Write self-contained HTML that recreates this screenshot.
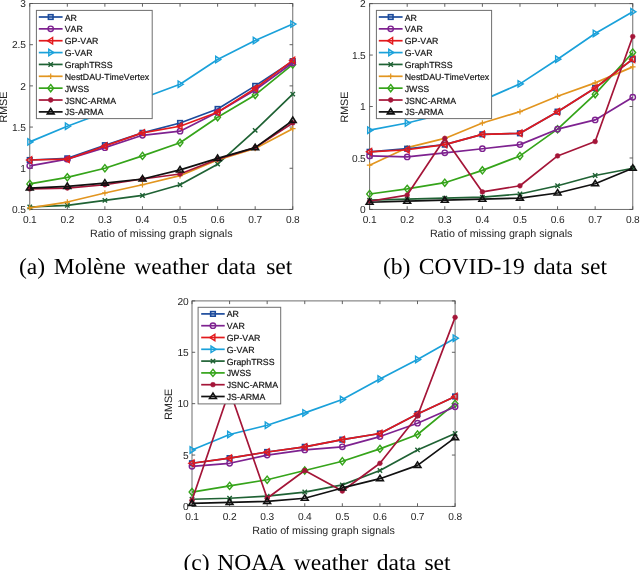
<!DOCTYPE html>
<html><head><meta charset="utf-8"><style>
html,body{margin:0;padding:0;background:#fff;width:640px;height:570px;overflow:hidden}
svg{display:block;font-family:"Liberation Sans", sans-serif;font-kerning:none;will-change:transform;text-rendering:geometricPrecision}
</style></head><body>
<svg width="640" height="570" viewBox="0 0 640 570">
<rect x="29.75" y="3.50" width="263.00" height="205.95" fill="#fff" stroke="#6e6e6e" stroke-width="1.0"/>
<path d="M29.75,209.45 v-3.2" stroke="#505050" stroke-width="0.9"/>
<path d="M29.75,3.50 v3.2" stroke="#505050" stroke-width="0.9"/>
<text x="29.75" y="223.20" text-anchor="middle" font-size="10.2" letter-spacing="-0.15" fill="#262626">0.1</text>
<path d="M67.32,209.45 v-3.2" stroke="#505050" stroke-width="0.9"/>
<path d="M67.32,3.50 v3.2" stroke="#505050" stroke-width="0.9"/>
<text x="67.32" y="223.20" text-anchor="middle" font-size="10.2" letter-spacing="-0.15" fill="#262626">0.2</text>
<path d="M104.89,209.45 v-3.2" stroke="#505050" stroke-width="0.9"/>
<path d="M104.89,3.50 v3.2" stroke="#505050" stroke-width="0.9"/>
<text x="104.89" y="223.20" text-anchor="middle" font-size="10.2" letter-spacing="-0.15" fill="#262626">0.3</text>
<path d="M142.46,209.45 v-3.2" stroke="#505050" stroke-width="0.9"/>
<path d="M142.46,3.50 v3.2" stroke="#505050" stroke-width="0.9"/>
<text x="142.46" y="223.20" text-anchor="middle" font-size="10.2" letter-spacing="-0.15" fill="#262626">0.4</text>
<path d="M180.04,209.45 v-3.2" stroke="#505050" stroke-width="0.9"/>
<path d="M180.04,3.50 v3.2" stroke="#505050" stroke-width="0.9"/>
<text x="180.04" y="223.20" text-anchor="middle" font-size="10.2" letter-spacing="-0.15" fill="#262626">0.5</text>
<path d="M217.61,209.45 v-3.2" stroke="#505050" stroke-width="0.9"/>
<path d="M217.61,3.50 v3.2" stroke="#505050" stroke-width="0.9"/>
<text x="217.61" y="223.20" text-anchor="middle" font-size="10.2" letter-spacing="-0.15" fill="#262626">0.6</text>
<path d="M255.18,209.45 v-3.2" stroke="#505050" stroke-width="0.9"/>
<path d="M255.18,3.50 v3.2" stroke="#505050" stroke-width="0.9"/>
<text x="255.18" y="223.20" text-anchor="middle" font-size="10.2" letter-spacing="-0.15" fill="#262626">0.7</text>
<path d="M292.75,209.45 v-3.2" stroke="#505050" stroke-width="0.9"/>
<path d="M292.75,3.50 v3.2" stroke="#505050" stroke-width="0.9"/>
<text x="292.75" y="223.20" text-anchor="middle" font-size="10.2" letter-spacing="-0.15" fill="#262626">0.8</text>
<path d="M29.75,209.45 h3.2" stroke="#505050" stroke-width="0.9"/>
<path d="M292.75,209.45 h-3.2" stroke="#505050" stroke-width="0.9"/>
<text x="25.75" y="213.20" text-anchor="end" font-size="10.2" letter-spacing="-0.15" fill="#262626">0.5</text>
<path d="M29.75,168.26 h3.2" stroke="#505050" stroke-width="0.9"/>
<path d="M292.75,168.26 h-3.2" stroke="#505050" stroke-width="0.9"/>
<text x="25.75" y="172.01" text-anchor="end" font-size="10.2" letter-spacing="-0.15" fill="#262626">1</text>
<path d="M29.75,127.07 h3.2" stroke="#505050" stroke-width="0.9"/>
<path d="M292.75,127.07 h-3.2" stroke="#505050" stroke-width="0.9"/>
<text x="25.75" y="130.82" text-anchor="end" font-size="10.2" letter-spacing="-0.15" fill="#262626">1.5</text>
<path d="M29.75,85.88 h3.2" stroke="#505050" stroke-width="0.9"/>
<path d="M292.75,85.88 h-3.2" stroke="#505050" stroke-width="0.9"/>
<text x="25.75" y="89.63" text-anchor="end" font-size="10.2" letter-spacing="-0.15" fill="#262626">2</text>
<path d="M29.75,44.69 h3.2" stroke="#505050" stroke-width="0.9"/>
<path d="M292.75,44.69 h-3.2" stroke="#505050" stroke-width="0.9"/>
<text x="25.75" y="48.44" text-anchor="end" font-size="10.2" letter-spacing="-0.15" fill="#262626">2.5</text>
<path d="M29.75,3.50 h3.2" stroke="#505050" stroke-width="0.9"/>
<path d="M292.75,3.50 h-3.2" stroke="#505050" stroke-width="0.9"/>
<text x="25.75" y="7.25" text-anchor="end" font-size="10.2" letter-spacing="-0.15" fill="#262626">3</text>
<text x="161.25" y="236.95" text-anchor="middle" font-size="10.7" fill="#262626">Ratio of missing graph signals</text>
<text transform="translate(7.30,107.07) rotate(-90)" text-anchor="middle" font-size="10.7" fill="#262626">RMSE</text>
<polyline points="29.75,206.98 67.32,205.33 104.89,200.39 142.46,195.45 180.04,184.74 217.61,164.14 255.18,130.37 292.75,94.12" fill="none" stroke="#1f6234" stroke-width="1.7" stroke-linejoin="round"/>
<path d="M27.55,204.78 L31.95,209.18 M27.55,209.18 L31.95,204.78" stroke="#1f6234" stroke-width="1.4"/>
<path d="M65.12,203.13 L69.52,207.53 M65.12,207.53 L69.52,203.13" stroke="#1f6234" stroke-width="1.4"/>
<path d="M102.69,198.19 L107.09,202.59 M102.69,202.59 L107.09,198.19" stroke="#1f6234" stroke-width="1.4"/>
<path d="M140.26,193.25 L144.66,197.65 M140.26,197.65 L144.66,193.25" stroke="#1f6234" stroke-width="1.4"/>
<path d="M177.84,182.54 L182.24,186.94 M177.84,186.94 L182.24,182.54" stroke="#1f6234" stroke-width="1.4"/>
<path d="M215.41,161.94 L219.81,166.34 M215.41,166.34 L219.81,161.94" stroke="#1f6234" stroke-width="1.4"/>
<path d="M252.98,128.17 L257.38,132.57 M252.98,132.57 L257.38,128.17" stroke="#1f6234" stroke-width="1.4"/>
<path d="M290.55,91.92 L294.95,96.32 M290.55,96.32 L294.95,91.92" stroke="#1f6234" stroke-width="1.4"/>
<polyline points="29.75,207.80 67.32,202.04 104.89,192.97 142.46,184.74 180.04,175.67 217.61,160.02 255.18,148.49 292.75,128.72" fill="none" stroke="#e2951f" stroke-width="1.7" stroke-linejoin="round"/>
<path d="M26.95,207.80 L32.55,207.80 M29.75,205.00 L29.75,210.60" stroke="#e2951f" stroke-width="1.2"/>
<path d="M64.52,202.04 L70.12,202.04 M67.32,199.24 L67.32,204.84" stroke="#e2951f" stroke-width="1.2"/>
<path d="M102.09,192.97 L107.69,192.97 M104.89,190.17 L104.89,195.77" stroke="#e2951f" stroke-width="1.2"/>
<path d="M139.66,184.74 L145.26,184.74 M142.46,181.94 L142.46,187.54" stroke="#e2951f" stroke-width="1.2"/>
<path d="M177.24,175.67 L182.84,175.67 M180.04,172.87 L180.04,178.47" stroke="#e2951f" stroke-width="1.2"/>
<path d="M214.81,160.02 L220.41,160.02 M217.61,157.22 L217.61,162.82" stroke="#e2951f" stroke-width="1.2"/>
<path d="M252.38,148.49 L257.98,148.49 M255.18,145.69 L255.18,151.29" stroke="#e2951f" stroke-width="1.2"/>
<path d="M289.95,128.72 L295.55,128.72 M292.75,125.92 L292.75,131.52" stroke="#e2951f" stroke-width="1.2"/>
<polyline points="29.75,183.91 67.32,177.32 104.89,168.26 142.46,155.90 180.04,142.72 217.61,117.18 255.18,94.94 292.75,64.46" fill="none" stroke="#35a41a" stroke-width="1.7" stroke-linejoin="round"/>
<path d="M29.75,180.31 L32.63,183.91 L29.75,187.51 L26.87,183.91 Z" fill="none" stroke="#35a41a" stroke-width="1.4"/>
<path d="M67.32,173.72 L70.20,177.32 L67.32,180.92 L64.44,177.32 Z" fill="none" stroke="#35a41a" stroke-width="1.4"/>
<path d="M104.89,164.66 L107.77,168.26 L104.89,171.86 L102.01,168.26 Z" fill="none" stroke="#35a41a" stroke-width="1.4"/>
<path d="M142.46,152.30 L145.34,155.90 L142.46,159.50 L139.58,155.90 Z" fill="none" stroke="#35a41a" stroke-width="1.4"/>
<path d="M180.04,139.12 L182.92,142.72 L180.04,146.32 L177.16,142.72 Z" fill="none" stroke="#35a41a" stroke-width="1.4"/>
<path d="M217.61,113.58 L220.49,117.18 L217.61,120.78 L214.73,117.18 Z" fill="none" stroke="#35a41a" stroke-width="1.4"/>
<path d="M255.18,91.34 L258.06,94.94 L255.18,98.54 L252.30,94.94 Z" fill="none" stroke="#35a41a" stroke-width="1.4"/>
<path d="M292.75,60.86 L295.63,64.46 L292.75,68.06 L289.87,64.46 Z" fill="none" stroke="#35a41a" stroke-width="1.4"/>
<polyline points="29.75,141.90 67.32,126.25 104.89,112.24 142.46,98.24 180.04,84.23 217.61,59.52 255.18,40.57 292.75,24.09" fill="none" stroke="#1aa1da" stroke-width="1.7" stroke-linejoin="round"/>
<path d="M32.95,141.90 L27.83,138.70 L27.83,145.10 Z" fill="none" stroke="#1aa1da" stroke-width="1.4" stroke-linejoin="miter"/>
<path d="M70.52,126.25 L65.40,123.05 L65.40,129.45 Z" fill="none" stroke="#1aa1da" stroke-width="1.4" stroke-linejoin="miter"/>
<path d="M108.09,112.24 L102.97,109.04 L102.97,115.44 Z" fill="none" stroke="#1aa1da" stroke-width="1.4" stroke-linejoin="miter"/>
<path d="M145.66,98.24 L140.54,95.04 L140.54,101.44 Z" fill="none" stroke="#1aa1da" stroke-width="1.4" stroke-linejoin="miter"/>
<path d="M183.24,84.23 L178.12,81.03 L178.12,87.43 Z" fill="none" stroke="#1aa1da" stroke-width="1.4" stroke-linejoin="miter"/>
<path d="M220.81,59.52 L215.69,56.32 L215.69,62.72 Z" fill="none" stroke="#1aa1da" stroke-width="1.4" stroke-linejoin="miter"/>
<path d="M258.38,40.57 L253.26,37.37 L253.26,43.77 Z" fill="none" stroke="#1aa1da" stroke-width="1.4" stroke-linejoin="miter"/>
<path d="M295.95,24.09 L290.83,20.89 L290.83,27.29 Z" fill="none" stroke="#1aa1da" stroke-width="1.4" stroke-linejoin="miter"/>
<polyline points="29.75,160.02 67.32,158.37 104.89,145.19 142.46,132.84 180.04,122.95 217.61,108.95 255.18,85.88 292.75,61.17" fill="none" stroke="#1c4b9c" stroke-width="1.7" stroke-linejoin="round"/>
<rect x="27.45" y="157.72" width="4.60" height="4.60" fill="none" stroke="#1c4b9c" stroke-width="1.6"/>
<rect x="65.02" y="156.07" width="4.60" height="4.60" fill="none" stroke="#1c4b9c" stroke-width="1.6"/>
<rect x="102.59" y="142.89" width="4.60" height="4.60" fill="none" stroke="#1c4b9c" stroke-width="1.6"/>
<rect x="140.16" y="130.54" width="4.60" height="4.60" fill="none" stroke="#1c4b9c" stroke-width="1.6"/>
<rect x="177.74" y="120.65" width="4.60" height="4.60" fill="none" stroke="#1c4b9c" stroke-width="1.6"/>
<rect x="215.31" y="106.65" width="4.60" height="4.60" fill="none" stroke="#1c4b9c" stroke-width="1.6"/>
<rect x="252.88" y="83.58" width="4.60" height="4.60" fill="none" stroke="#1c4b9c" stroke-width="1.6"/>
<rect x="290.45" y="58.87" width="4.60" height="4.60" fill="none" stroke="#1c4b9c" stroke-width="1.6"/>
<polyline points="29.75,165.79 67.32,159.20 104.89,147.66 142.46,135.31 180.04,131.19 217.61,112.24 255.18,90.00 292.75,62.81" fill="none" stroke="#7e2290" stroke-width="1.7" stroke-linejoin="round"/>
<circle cx="29.75" cy="165.79" r="2.70" fill="none" stroke="#7e2290" stroke-width="1.4"/>
<circle cx="67.32" cy="159.20" r="2.70" fill="none" stroke="#7e2290" stroke-width="1.4"/>
<circle cx="104.89" cy="147.66" r="2.70" fill="none" stroke="#7e2290" stroke-width="1.4"/>
<circle cx="142.46" cy="135.31" r="2.70" fill="none" stroke="#7e2290" stroke-width="1.4"/>
<circle cx="180.04" cy="131.19" r="2.70" fill="none" stroke="#7e2290" stroke-width="1.4"/>
<circle cx="217.61" cy="112.24" r="2.70" fill="none" stroke="#7e2290" stroke-width="1.4"/>
<circle cx="255.18" cy="90.00" r="2.70" fill="none" stroke="#7e2290" stroke-width="1.4"/>
<circle cx="292.75" cy="62.81" r="2.70" fill="none" stroke="#7e2290" stroke-width="1.4"/>
<polyline points="29.75,160.02 67.32,159.20 104.89,146.02 142.46,132.84 180.04,126.25 217.61,112.24 255.18,88.35 292.75,60.34" fill="none" stroke="#e3191c" stroke-width="1.7" stroke-linejoin="round"/>
<path d="M26.55,160.02 L31.67,156.82 L31.67,163.22 Z" fill="none" stroke="#e3191c" stroke-width="1.4" stroke-linejoin="miter"/>
<path d="M64.12,159.20 L69.24,156.00 L69.24,162.40 Z" fill="none" stroke="#e3191c" stroke-width="1.4" stroke-linejoin="miter"/>
<path d="M101.69,146.02 L106.81,142.82 L106.81,149.22 Z" fill="none" stroke="#e3191c" stroke-width="1.4" stroke-linejoin="miter"/>
<path d="M139.26,132.84 L144.38,129.64 L144.38,136.04 Z" fill="none" stroke="#e3191c" stroke-width="1.4" stroke-linejoin="miter"/>
<path d="M176.84,126.25 L181.96,123.05 L181.96,129.45 Z" fill="none" stroke="#e3191c" stroke-width="1.4" stroke-linejoin="miter"/>
<path d="M214.41,112.24 L219.53,109.04 L219.53,115.44 Z" fill="none" stroke="#e3191c" stroke-width="1.4" stroke-linejoin="miter"/>
<path d="M251.98,88.35 L257.10,85.15 L257.10,91.55 Z" fill="none" stroke="#e3191c" stroke-width="1.4" stroke-linejoin="miter"/>
<path d="M289.55,60.34 L294.67,57.14 L294.67,63.54 Z" fill="none" stroke="#e3191c" stroke-width="1.4" stroke-linejoin="miter"/>
<polyline points="29.75,188.85 67.32,188.03 104.89,184.74 142.46,178.97 180.04,174.03 217.61,159.20 255.18,147.66 292.75,122.95" fill="none" stroke="#a41538" stroke-width="1.7" stroke-linejoin="round"/>
<circle cx="29.75" cy="188.85" r="2.40" fill="#a41538" stroke="#a41538" stroke-width="0.5"/>
<circle cx="67.32" cy="188.03" r="2.40" fill="#a41538" stroke="#a41538" stroke-width="0.5"/>
<circle cx="104.89" cy="184.74" r="2.40" fill="#a41538" stroke="#a41538" stroke-width="0.5"/>
<circle cx="142.46" cy="178.97" r="2.40" fill="#a41538" stroke="#a41538" stroke-width="0.5"/>
<circle cx="180.04" cy="174.03" r="2.40" fill="#a41538" stroke="#a41538" stroke-width="0.5"/>
<circle cx="217.61" cy="159.20" r="2.40" fill="#a41538" stroke="#a41538" stroke-width="0.5"/>
<circle cx="255.18" cy="147.66" r="2.40" fill="#a41538" stroke="#a41538" stroke-width="0.5"/>
<circle cx="292.75" cy="122.95" r="2.40" fill="#a41538" stroke="#a41538" stroke-width="0.5"/>
<polyline points="29.75,188.03 67.32,186.38 104.89,183.09 142.46,178.97 180.04,169.91 217.61,158.37 255.18,147.66 292.75,120.48" fill="none" stroke="#111111" stroke-width="1.7" stroke-linejoin="round"/>
<path d="M29.75,184.63 L26.35,190.07 L33.15,190.07 Z" fill="none" stroke="#111111" stroke-width="1.6" stroke-linejoin="miter"/>
<path d="M67.32,182.98 L63.92,188.42 L70.72,188.42 Z" fill="none" stroke="#111111" stroke-width="1.6" stroke-linejoin="miter"/>
<path d="M104.89,179.69 L101.49,185.13 L108.29,185.13 Z" fill="none" stroke="#111111" stroke-width="1.6" stroke-linejoin="miter"/>
<path d="M142.46,175.57 L139.06,181.01 L145.86,181.01 Z" fill="none" stroke="#111111" stroke-width="1.6" stroke-linejoin="miter"/>
<path d="M180.04,166.51 L176.64,171.95 L183.44,171.95 Z" fill="none" stroke="#111111" stroke-width="1.6" stroke-linejoin="miter"/>
<path d="M217.61,154.97 L214.21,160.41 L221.01,160.41 Z" fill="none" stroke="#111111" stroke-width="1.6" stroke-linejoin="miter"/>
<path d="M255.18,144.26 L251.78,149.70 L258.58,149.70 Z" fill="none" stroke="#111111" stroke-width="1.6" stroke-linejoin="miter"/>
<path d="M292.75,117.08 L289.35,122.52 L296.15,122.52 Z" fill="none" stroke="#111111" stroke-width="1.6" stroke-linejoin="miter"/>
<rect x="36.40" y="10.40" width="115.80" height="108.20" fill="#fff" stroke="#6e6e6e" stroke-width="1.0"/>
<path d="M38.80,17.00 H62.60" stroke="#1c4b9c" stroke-width="1.7"/>
<rect x="48.40" y="14.70" width="4.60" height="4.60" fill="none" stroke="#1c4b9c" stroke-width="1.6"/>
<text x="64.70" y="20.57" font-size="8.8" fill="#111" stroke="#111" stroke-width="0.18">AR</text>
<path d="M38.80,28.86 H62.60" stroke="#7e2290" stroke-width="1.7"/>
<circle cx="50.70" cy="28.86" r="2.70" fill="none" stroke="#7e2290" stroke-width="1.4"/>
<text x="64.70" y="32.43" font-size="8.8" fill="#111" stroke="#111" stroke-width="0.18">VAR</text>
<path d="M38.80,40.72 H62.60" stroke="#e3191c" stroke-width="1.7"/>
<path d="M47.50,40.72 L52.62,37.52 L52.62,43.92 Z" fill="none" stroke="#e3191c" stroke-width="1.4" stroke-linejoin="miter"/>
<text x="64.70" y="44.29" font-size="8.8" fill="#111" stroke="#111" stroke-width="0.18">GP-VAR</text>
<path d="M38.80,52.58 H62.60" stroke="#1aa1da" stroke-width="1.7"/>
<path d="M53.90,52.58 L48.78,49.38 L48.78,55.78 Z" fill="none" stroke="#1aa1da" stroke-width="1.4" stroke-linejoin="miter"/>
<text x="64.70" y="56.15" font-size="8.8" fill="#111" stroke="#111" stroke-width="0.18">G-VAR</text>
<path d="M38.80,64.44 H62.60" stroke="#1f6234" stroke-width="1.7"/>
<path d="M48.50,62.24 L52.90,66.64 M48.50,66.64 L52.90,62.24" stroke="#1f6234" stroke-width="1.4"/>
<text x="64.70" y="68.01" font-size="8.8" fill="#111" stroke="#111" stroke-width="0.18">GraphTRSS</text>
<path d="M38.80,76.30 H62.60" stroke="#e2951f" stroke-width="1.7"/>
<path d="M47.90,76.30 L53.50,76.30 M50.70,73.50 L50.70,79.10" stroke="#e2951f" stroke-width="1.2"/>
<text x="64.70" y="79.87" font-size="8.8" fill="#111" stroke="#111" stroke-width="0.18">NestDAU-TimeVertex</text>
<path d="M38.80,88.16 H62.60" stroke="#35a41a" stroke-width="1.7"/>
<path d="M50.70,84.56 L53.58,88.16 L50.70,91.76 L47.82,88.16 Z" fill="none" stroke="#35a41a" stroke-width="1.4"/>
<text x="64.70" y="91.73" font-size="8.8" fill="#111" stroke="#111" stroke-width="0.18">JWSS</text>
<path d="M38.80,100.02 H62.60" stroke="#a41538" stroke-width="1.7"/>
<circle cx="50.70" cy="100.02" r="2.40" fill="#a41538" stroke="#a41538" stroke-width="0.5"/>
<text x="64.70" y="103.59" font-size="8.8" fill="#111" stroke="#111" stroke-width="0.18">JSNC-ARMA</text>
<path d="M38.80,111.88 H62.60" stroke="#111111" stroke-width="1.7"/>
<path d="M50.70,108.48 L47.30,113.92 L54.10,113.92 Z" fill="none" stroke="#111111" stroke-width="1.6" stroke-linejoin="miter"/>
<text x="64.70" y="115.45" font-size="8.8" fill="#111" stroke="#111" stroke-width="0.18">JS-ARMA</text>
<rect x="369.60" y="3.60" width="263.15" height="205.85" fill="#fff" stroke="#6e6e6e" stroke-width="1.0"/>
<path d="M369.60,209.45 v-3.2" stroke="#505050" stroke-width="0.9"/>
<path d="M369.60,3.60 v3.2" stroke="#505050" stroke-width="0.9"/>
<text x="369.60" y="223.30" text-anchor="middle" font-size="10.2" letter-spacing="-0.15" fill="#262626">0.1</text>
<path d="M407.19,209.45 v-3.2" stroke="#505050" stroke-width="0.9"/>
<path d="M407.19,3.60 v3.2" stroke="#505050" stroke-width="0.9"/>
<text x="407.19" y="223.30" text-anchor="middle" font-size="10.2" letter-spacing="-0.15" fill="#262626">0.2</text>
<path d="M444.79,209.45 v-3.2" stroke="#505050" stroke-width="0.9"/>
<path d="M444.79,3.60 v3.2" stroke="#505050" stroke-width="0.9"/>
<text x="444.79" y="223.30" text-anchor="middle" font-size="10.2" letter-spacing="-0.15" fill="#262626">0.3</text>
<path d="M482.38,209.45 v-3.2" stroke="#505050" stroke-width="0.9"/>
<path d="M482.38,3.60 v3.2" stroke="#505050" stroke-width="0.9"/>
<text x="482.38" y="223.30" text-anchor="middle" font-size="10.2" letter-spacing="-0.15" fill="#262626">0.4</text>
<path d="M519.97,209.45 v-3.2" stroke="#505050" stroke-width="0.9"/>
<path d="M519.97,3.60 v3.2" stroke="#505050" stroke-width="0.9"/>
<text x="519.97" y="223.30" text-anchor="middle" font-size="10.2" letter-spacing="-0.15" fill="#262626">0.5</text>
<path d="M557.56,209.45 v-3.2" stroke="#505050" stroke-width="0.9"/>
<path d="M557.56,3.60 v3.2" stroke="#505050" stroke-width="0.9"/>
<text x="557.56" y="223.30" text-anchor="middle" font-size="10.2" letter-spacing="-0.15" fill="#262626">0.6</text>
<path d="M595.16,209.45 v-3.2" stroke="#505050" stroke-width="0.9"/>
<path d="M595.16,3.60 v3.2" stroke="#505050" stroke-width="0.9"/>
<text x="595.16" y="223.30" text-anchor="middle" font-size="10.2" letter-spacing="-0.15" fill="#262626">0.7</text>
<path d="M632.75,209.45 v-3.2" stroke="#505050" stroke-width="0.9"/>
<path d="M632.75,3.60 v3.2" stroke="#505050" stroke-width="0.9"/>
<text x="632.75" y="223.30" text-anchor="middle" font-size="10.2" letter-spacing="-0.15" fill="#262626">0.8</text>
<path d="M369.60,209.45 h3.2" stroke="#505050" stroke-width="0.9"/>
<path d="M632.75,209.45 h-3.2" stroke="#505050" stroke-width="0.9"/>
<text x="365.60" y="213.20" text-anchor="end" font-size="10.2" letter-spacing="-0.15" fill="#262626">0</text>
<path d="M369.60,157.99 h3.2" stroke="#505050" stroke-width="0.9"/>
<path d="M632.75,157.99 h-3.2" stroke="#505050" stroke-width="0.9"/>
<text x="365.60" y="161.74" text-anchor="end" font-size="10.2" letter-spacing="-0.15" fill="#262626">0.5</text>
<path d="M369.60,106.52 h3.2" stroke="#505050" stroke-width="0.9"/>
<path d="M632.75,106.52 h-3.2" stroke="#505050" stroke-width="0.9"/>
<text x="365.60" y="110.27" text-anchor="end" font-size="10.2" letter-spacing="-0.15" fill="#262626">1</text>
<path d="M369.60,55.06 h3.2" stroke="#505050" stroke-width="0.9"/>
<path d="M632.75,55.06 h-3.2" stroke="#505050" stroke-width="0.9"/>
<text x="365.60" y="58.81" text-anchor="end" font-size="10.2" letter-spacing="-0.15" fill="#262626">1.5</text>
<path d="M369.60,3.60 h3.2" stroke="#505050" stroke-width="0.9"/>
<path d="M632.75,3.60 h-3.2" stroke="#505050" stroke-width="0.9"/>
<text x="365.60" y="7.35" text-anchor="end" font-size="10.2" letter-spacing="-0.15" fill="#262626">2</text>
<text x="501.18" y="236.90" text-anchor="middle" font-size="10.7" fill="#262626">Ratio of missing graph signals</text>
<text transform="translate(347.60,107.12) rotate(-90)" text-anchor="middle" font-size="10.7" fill="#262626">RMSE</text>
<polyline points="369.60,200.19 407.19,199.16 444.79,198.13 482.38,197.10 519.97,194.01 557.56,185.78 595.16,175.48 632.75,168.28" fill="none" stroke="#1f6234" stroke-width="1.7" stroke-linejoin="round"/>
<path d="M367.40,197.99 L371.80,202.39 M367.40,202.39 L371.80,197.99" stroke="#1f6234" stroke-width="1.4"/>
<path d="M404.99,196.96 L409.39,201.36 M404.99,201.36 L409.39,196.96" stroke="#1f6234" stroke-width="1.4"/>
<path d="M442.59,195.93 L446.99,200.33 M442.59,200.33 L446.99,195.93" stroke="#1f6234" stroke-width="1.4"/>
<path d="M480.18,194.90 L484.58,199.30 M480.18,199.30 L484.58,194.90" stroke="#1f6234" stroke-width="1.4"/>
<path d="M517.77,191.81 L522.17,196.21 M517.77,196.21 L522.17,191.81" stroke="#1f6234" stroke-width="1.4"/>
<path d="M555.36,183.58 L559.76,187.98 M555.36,187.98 L559.76,183.58" stroke="#1f6234" stroke-width="1.4"/>
<path d="M592.96,173.28 L597.36,177.68 M592.96,177.68 L597.36,173.28" stroke="#1f6234" stroke-width="1.4"/>
<path d="M630.55,166.08 L634.95,170.48 M630.55,170.48 L634.95,166.08" stroke="#1f6234" stroke-width="1.4"/>
<polyline points="369.60,165.19 407.19,147.69 444.79,138.43 482.38,122.99 519.97,111.67 557.56,96.23 595.16,82.85 632.75,66.90" fill="none" stroke="#e2951f" stroke-width="1.7" stroke-linejoin="round"/>
<path d="M366.80,165.19 L372.40,165.19 M369.60,162.39 L369.60,167.99" stroke="#e2951f" stroke-width="1.2"/>
<path d="M404.39,147.69 L409.99,147.69 M407.19,144.89 L407.19,150.50" stroke="#e2951f" stroke-width="1.2"/>
<path d="M441.99,138.43 L447.59,138.43 M444.79,135.63 L444.79,141.23" stroke="#e2951f" stroke-width="1.2"/>
<path d="M479.58,122.99 L485.18,122.99 M482.38,120.19 L482.38,125.79" stroke="#e2951f" stroke-width="1.2"/>
<path d="M517.17,111.67 L522.77,111.67 M519.97,108.87 L519.97,114.47" stroke="#e2951f" stroke-width="1.2"/>
<path d="M554.76,96.23 L560.36,96.23 M557.56,93.43 L557.56,99.03" stroke="#e2951f" stroke-width="1.2"/>
<path d="M592.36,82.85 L597.96,82.85 M595.16,80.05 L595.16,85.65" stroke="#e2951f" stroke-width="1.2"/>
<path d="M629.95,66.90 L635.55,66.90 M632.75,64.10 L632.75,69.70" stroke="#e2951f" stroke-width="1.2"/>
<polyline points="369.60,194.01 407.19,188.86 444.79,182.69 482.38,170.34 519.97,155.93 557.56,129.17 595.16,94.17 632.75,52.49" fill="none" stroke="#35a41a" stroke-width="1.7" stroke-linejoin="round"/>
<path d="M369.60,190.41 L372.48,194.01 L369.60,197.61 L366.72,194.01 Z" fill="none" stroke="#35a41a" stroke-width="1.4"/>
<path d="M407.19,185.26 L410.07,188.86 L407.19,192.46 L404.31,188.86 Z" fill="none" stroke="#35a41a" stroke-width="1.4"/>
<path d="M444.79,179.09 L447.67,182.69 L444.79,186.29 L441.91,182.69 Z" fill="none" stroke="#35a41a" stroke-width="1.4"/>
<path d="M482.38,166.74 L485.26,170.34 L482.38,173.94 L479.50,170.34 Z" fill="none" stroke="#35a41a" stroke-width="1.4"/>
<path d="M519.97,152.33 L522.85,155.93 L519.97,159.53 L517.09,155.93 Z" fill="none" stroke="#35a41a" stroke-width="1.4"/>
<path d="M557.56,125.57 L560.44,129.17 L557.56,132.77 L554.68,129.17 Z" fill="none" stroke="#35a41a" stroke-width="1.4"/>
<path d="M595.16,90.57 L598.04,94.17 L595.16,97.77 L592.28,94.17 Z" fill="none" stroke="#35a41a" stroke-width="1.4"/>
<path d="M632.75,48.89 L635.63,52.49 L632.75,56.09 L629.87,52.49 Z" fill="none" stroke="#35a41a" stroke-width="1.4"/>
<polyline points="369.60,130.20 407.19,122.99 444.79,113.73 482.38,100.35 519.97,83.88 557.56,59.18 595.16,33.45 632.75,11.83" fill="none" stroke="#1aa1da" stroke-width="1.7" stroke-linejoin="round"/>
<path d="M372.80,130.20 L367.68,127.00 L367.68,133.40 Z" fill="none" stroke="#1aa1da" stroke-width="1.4" stroke-linejoin="miter"/>
<path d="M410.39,122.99 L405.27,119.79 L405.27,126.19 Z" fill="none" stroke="#1aa1da" stroke-width="1.4" stroke-linejoin="miter"/>
<path d="M447.99,113.73 L442.87,110.53 L442.87,116.93 Z" fill="none" stroke="#1aa1da" stroke-width="1.4" stroke-linejoin="miter"/>
<path d="M485.58,100.35 L480.46,97.15 L480.46,103.55 Z" fill="none" stroke="#1aa1da" stroke-width="1.4" stroke-linejoin="miter"/>
<path d="M523.17,83.88 L518.05,80.68 L518.05,87.08 Z" fill="none" stroke="#1aa1da" stroke-width="1.4" stroke-linejoin="miter"/>
<path d="M560.76,59.18 L555.64,55.98 L555.64,62.38 Z" fill="none" stroke="#1aa1da" stroke-width="1.4" stroke-linejoin="miter"/>
<path d="M598.36,33.45 L593.24,30.25 L593.24,36.65 Z" fill="none" stroke="#1aa1da" stroke-width="1.4" stroke-linejoin="miter"/>
<path d="M635.95,11.83 L630.83,8.63 L630.83,15.03 Z" fill="none" stroke="#1aa1da" stroke-width="1.4" stroke-linejoin="miter"/>
<polyline points="369.60,151.81 407.19,148.72 444.79,144.61 482.38,134.31 519.97,133.29 557.56,111.67 595.16,88.00 632.75,59.18" fill="none" stroke="#1c4b9c" stroke-width="1.7" stroke-linejoin="round"/>
<rect x="367.30" y="149.51" width="4.60" height="4.60" fill="none" stroke="#1c4b9c" stroke-width="1.6"/>
<rect x="404.89" y="146.42" width="4.60" height="4.60" fill="none" stroke="#1c4b9c" stroke-width="1.6"/>
<rect x="442.49" y="142.31" width="4.60" height="4.60" fill="none" stroke="#1c4b9c" stroke-width="1.6"/>
<rect x="480.08" y="132.01" width="4.60" height="4.60" fill="none" stroke="#1c4b9c" stroke-width="1.6"/>
<rect x="517.67" y="130.99" width="4.60" height="4.60" fill="none" stroke="#1c4b9c" stroke-width="1.6"/>
<rect x="555.26" y="109.37" width="4.60" height="4.60" fill="none" stroke="#1c4b9c" stroke-width="1.6"/>
<rect x="592.86" y="85.70" width="4.60" height="4.60" fill="none" stroke="#1c4b9c" stroke-width="1.6"/>
<rect x="630.45" y="56.88" width="4.60" height="4.60" fill="none" stroke="#1c4b9c" stroke-width="1.6"/>
<polyline points="369.60,155.93 407.19,156.96 444.79,152.84 482.38,148.72 519.97,144.61 557.56,129.17 595.16,119.91 632.75,97.26" fill="none" stroke="#7e2290" stroke-width="1.7" stroke-linejoin="round"/>
<circle cx="369.60" cy="155.93" r="2.70" fill="none" stroke="#7e2290" stroke-width="1.4"/>
<circle cx="407.19" cy="156.96" r="2.70" fill="none" stroke="#7e2290" stroke-width="1.4"/>
<circle cx="444.79" cy="152.84" r="2.70" fill="none" stroke="#7e2290" stroke-width="1.4"/>
<circle cx="482.38" cy="148.72" r="2.70" fill="none" stroke="#7e2290" stroke-width="1.4"/>
<circle cx="519.97" cy="144.61" r="2.70" fill="none" stroke="#7e2290" stroke-width="1.4"/>
<circle cx="557.56" cy="129.17" r="2.70" fill="none" stroke="#7e2290" stroke-width="1.4"/>
<circle cx="595.16" cy="119.91" r="2.70" fill="none" stroke="#7e2290" stroke-width="1.4"/>
<circle cx="632.75" cy="97.26" r="2.70" fill="none" stroke="#7e2290" stroke-width="1.4"/>
<polyline points="369.60,151.81 407.19,149.75 444.79,144.61 482.38,134.31 519.97,133.29 557.56,111.67 595.16,88.00 632.75,59.18" fill="none" stroke="#e3191c" stroke-width="1.7" stroke-linejoin="round"/>
<path d="M366.40,151.81 L371.52,148.61 L371.52,155.01 Z" fill="none" stroke="#e3191c" stroke-width="1.4" stroke-linejoin="miter"/>
<path d="M403.99,149.75 L409.11,146.55 L409.11,152.95 Z" fill="none" stroke="#e3191c" stroke-width="1.4" stroke-linejoin="miter"/>
<path d="M441.59,144.61 L446.71,141.41 L446.71,147.81 Z" fill="none" stroke="#e3191c" stroke-width="1.4" stroke-linejoin="miter"/>
<path d="M479.18,134.31 L484.30,131.11 L484.30,137.51 Z" fill="none" stroke="#e3191c" stroke-width="1.4" stroke-linejoin="miter"/>
<path d="M516.77,133.29 L521.89,130.09 L521.89,136.49 Z" fill="none" stroke="#e3191c" stroke-width="1.4" stroke-linejoin="miter"/>
<path d="M554.36,111.67 L559.48,108.47 L559.48,114.87 Z" fill="none" stroke="#e3191c" stroke-width="1.4" stroke-linejoin="miter"/>
<path d="M591.96,88.00 L597.08,84.80 L597.08,91.20 Z" fill="none" stroke="#e3191c" stroke-width="1.4" stroke-linejoin="miter"/>
<path d="M629.55,59.18 L634.67,55.98 L634.67,62.38 Z" fill="none" stroke="#e3191c" stroke-width="1.4" stroke-linejoin="miter"/>
<polyline points="369.60,201.22 407.19,195.04 444.79,138.43 482.38,191.95 519.97,185.78 557.56,155.93 595.16,141.52 632.75,36.54" fill="none" stroke="#a41538" stroke-width="1.7" stroke-linejoin="round"/>
<circle cx="369.60" cy="201.22" r="2.40" fill="#a41538" stroke="#a41538" stroke-width="0.5"/>
<circle cx="407.19" cy="195.04" r="2.40" fill="#a41538" stroke="#a41538" stroke-width="0.5"/>
<circle cx="444.79" cy="138.43" r="2.40" fill="#a41538" stroke="#a41538" stroke-width="0.5"/>
<circle cx="482.38" cy="191.95" r="2.40" fill="#a41538" stroke="#a41538" stroke-width="0.5"/>
<circle cx="519.97" cy="185.78" r="2.40" fill="#a41538" stroke="#a41538" stroke-width="0.5"/>
<circle cx="557.56" cy="155.93" r="2.40" fill="#a41538" stroke="#a41538" stroke-width="0.5"/>
<circle cx="595.16" cy="141.52" r="2.40" fill="#a41538" stroke="#a41538" stroke-width="0.5"/>
<circle cx="632.75" cy="36.54" r="2.40" fill="#a41538" stroke="#a41538" stroke-width="0.5"/>
<polyline points="369.60,202.25 407.19,201.22 444.79,200.19 482.38,199.16 519.97,198.13 557.56,192.98 595.16,183.72 632.75,168.28" fill="none" stroke="#111111" stroke-width="1.7" stroke-linejoin="round"/>
<path d="M369.60,198.85 L366.20,204.29 L373.00,204.29 Z" fill="none" stroke="#111111" stroke-width="1.6" stroke-linejoin="miter"/>
<path d="M407.19,197.82 L403.79,203.26 L410.59,203.26 Z" fill="none" stroke="#111111" stroke-width="1.6" stroke-linejoin="miter"/>
<path d="M444.79,196.79 L441.39,202.23 L448.19,202.23 Z" fill="none" stroke="#111111" stroke-width="1.6" stroke-linejoin="miter"/>
<path d="M482.38,195.76 L478.98,201.20 L485.78,201.20 Z" fill="none" stroke="#111111" stroke-width="1.6" stroke-linejoin="miter"/>
<path d="M519.97,194.73 L516.57,200.17 L523.37,200.17 Z" fill="none" stroke="#111111" stroke-width="1.6" stroke-linejoin="miter"/>
<path d="M557.56,189.58 L554.16,195.02 L560.96,195.02 Z" fill="none" stroke="#111111" stroke-width="1.6" stroke-linejoin="miter"/>
<path d="M595.16,180.32 L591.76,185.76 L598.56,185.76 Z" fill="none" stroke="#111111" stroke-width="1.6" stroke-linejoin="miter"/>
<path d="M632.75,164.88 L629.35,170.32 L636.15,170.32 Z" fill="none" stroke="#111111" stroke-width="1.6" stroke-linejoin="miter"/>
<rect x="376.40" y="10.40" width="115.20" height="108.20" fill="#fff" stroke="#6e6e6e" stroke-width="1.0"/>
<path d="M378.80,17.00 H402.60" stroke="#1c4b9c" stroke-width="1.7"/>
<rect x="388.40" y="14.70" width="4.60" height="4.60" fill="none" stroke="#1c4b9c" stroke-width="1.6"/>
<text x="404.70" y="20.57" font-size="8.8" fill="#111" stroke="#111" stroke-width="0.18">AR</text>
<path d="M378.80,28.86 H402.60" stroke="#7e2290" stroke-width="1.7"/>
<circle cx="390.70" cy="28.86" r="2.70" fill="none" stroke="#7e2290" stroke-width="1.4"/>
<text x="404.70" y="32.43" font-size="8.8" fill="#111" stroke="#111" stroke-width="0.18">VAR</text>
<path d="M378.80,40.72 H402.60" stroke="#e3191c" stroke-width="1.7"/>
<path d="M387.50,40.72 L392.62,37.52 L392.62,43.92 Z" fill="none" stroke="#e3191c" stroke-width="1.4" stroke-linejoin="miter"/>
<text x="404.70" y="44.29" font-size="8.8" fill="#111" stroke="#111" stroke-width="0.18">GP-VAR</text>
<path d="M378.80,52.58 H402.60" stroke="#1aa1da" stroke-width="1.7"/>
<path d="M393.90,52.58 L388.78,49.38 L388.78,55.78 Z" fill="none" stroke="#1aa1da" stroke-width="1.4" stroke-linejoin="miter"/>
<text x="404.70" y="56.15" font-size="8.8" fill="#111" stroke="#111" stroke-width="0.18">G-VAR</text>
<path d="M378.80,64.44 H402.60" stroke="#1f6234" stroke-width="1.7"/>
<path d="M388.50,62.24 L392.90,66.64 M388.50,66.64 L392.90,62.24" stroke="#1f6234" stroke-width="1.4"/>
<text x="404.70" y="68.01" font-size="8.8" fill="#111" stroke="#111" stroke-width="0.18">GraphTRSS</text>
<path d="M378.80,76.30 H402.60" stroke="#e2951f" stroke-width="1.7"/>
<path d="M387.90,76.30 L393.50,76.30 M390.70,73.50 L390.70,79.10" stroke="#e2951f" stroke-width="1.2"/>
<text x="404.70" y="79.87" font-size="8.8" fill="#111" stroke="#111" stroke-width="0.18">NestDAU-TimeVertex</text>
<path d="M378.80,88.16 H402.60" stroke="#35a41a" stroke-width="1.7"/>
<path d="M390.70,84.56 L393.58,88.16 L390.70,91.76 L387.82,88.16 Z" fill="none" stroke="#35a41a" stroke-width="1.4"/>
<text x="404.70" y="91.73" font-size="8.8" fill="#111" stroke="#111" stroke-width="0.18">JWSS</text>
<path d="M378.80,100.02 H402.60" stroke="#a41538" stroke-width="1.7"/>
<circle cx="390.70" cy="100.02" r="2.40" fill="#a41538" stroke="#a41538" stroke-width="0.5"/>
<text x="404.70" y="103.59" font-size="8.8" fill="#111" stroke="#111" stroke-width="0.18">JSNC-ARMA</text>
<path d="M378.80,111.88 H402.60" stroke="#111111" stroke-width="1.7"/>
<path d="M390.70,108.48 L387.30,113.92 L394.10,113.92 Z" fill="none" stroke="#111111" stroke-width="1.6" stroke-linejoin="miter"/>
<text x="404.70" y="115.45" font-size="8.8" fill="#111" stroke="#111" stroke-width="0.18">JS-ARMA</text>
<rect x="192.00" y="300.90" width="263.10" height="205.55" fill="#fff" stroke="#6e6e6e" stroke-width="1.0"/>
<path d="M192.00,506.45 v-3.2" stroke="#505050" stroke-width="0.9"/>
<path d="M192.00,300.90 v3.2" stroke="#505050" stroke-width="0.9"/>
<text x="192.00" y="520.15" text-anchor="middle" font-size="10.2" letter-spacing="-0.15" fill="#262626">0.1</text>
<path d="M229.59,506.45 v-3.2" stroke="#505050" stroke-width="0.9"/>
<path d="M229.59,300.90 v3.2" stroke="#505050" stroke-width="0.9"/>
<text x="229.59" y="520.15" text-anchor="middle" font-size="10.2" letter-spacing="-0.15" fill="#262626">0.2</text>
<path d="M267.17,506.45 v-3.2" stroke="#505050" stroke-width="0.9"/>
<path d="M267.17,300.90 v3.2" stroke="#505050" stroke-width="0.9"/>
<text x="267.17" y="520.15" text-anchor="middle" font-size="10.2" letter-spacing="-0.15" fill="#262626">0.3</text>
<path d="M304.76,506.45 v-3.2" stroke="#505050" stroke-width="0.9"/>
<path d="M304.76,300.90 v3.2" stroke="#505050" stroke-width="0.9"/>
<text x="304.76" y="520.15" text-anchor="middle" font-size="10.2" letter-spacing="-0.15" fill="#262626">0.4</text>
<path d="M342.34,506.45 v-3.2" stroke="#505050" stroke-width="0.9"/>
<path d="M342.34,300.90 v3.2" stroke="#505050" stroke-width="0.9"/>
<text x="342.34" y="520.15" text-anchor="middle" font-size="10.2" letter-spacing="-0.15" fill="#262626">0.5</text>
<path d="M379.93,506.45 v-3.2" stroke="#505050" stroke-width="0.9"/>
<path d="M379.93,300.90 v3.2" stroke="#505050" stroke-width="0.9"/>
<text x="379.93" y="520.15" text-anchor="middle" font-size="10.2" letter-spacing="-0.15" fill="#262626">0.6</text>
<path d="M417.51,506.45 v-3.2" stroke="#505050" stroke-width="0.9"/>
<path d="M417.51,300.90 v3.2" stroke="#505050" stroke-width="0.9"/>
<text x="417.51" y="520.15" text-anchor="middle" font-size="10.2" letter-spacing="-0.15" fill="#262626">0.7</text>
<path d="M455.10,506.45 v-3.2" stroke="#505050" stroke-width="0.9"/>
<path d="M455.10,300.90 v3.2" stroke="#505050" stroke-width="0.9"/>
<text x="455.10" y="520.15" text-anchor="middle" font-size="10.2" letter-spacing="-0.15" fill="#262626">0.8</text>
<path d="M192.00,506.45 h3.2" stroke="#505050" stroke-width="0.9"/>
<path d="M455.10,506.45 h-3.2" stroke="#505050" stroke-width="0.9"/>
<text x="188.60" y="510.20" text-anchor="end" font-size="10.2" letter-spacing="-0.15" fill="#262626">0</text>
<path d="M192.00,455.06 h3.2" stroke="#505050" stroke-width="0.9"/>
<path d="M455.10,455.06 h-3.2" stroke="#505050" stroke-width="0.9"/>
<text x="188.60" y="458.81" text-anchor="end" font-size="10.2" letter-spacing="-0.15" fill="#262626">5</text>
<path d="M192.00,403.67 h3.2" stroke="#505050" stroke-width="0.9"/>
<path d="M455.10,403.67 h-3.2" stroke="#505050" stroke-width="0.9"/>
<text x="188.60" y="407.42" text-anchor="end" font-size="10.2" letter-spacing="-0.15" fill="#262626">10</text>
<path d="M192.00,352.29 h3.2" stroke="#505050" stroke-width="0.9"/>
<path d="M455.10,352.29 h-3.2" stroke="#505050" stroke-width="0.9"/>
<text x="188.60" y="356.04" text-anchor="end" font-size="10.2" letter-spacing="-0.15" fill="#262626">15</text>
<path d="M192.00,300.90 h3.2" stroke="#505050" stroke-width="0.9"/>
<path d="M455.10,300.90 h-3.2" stroke="#505050" stroke-width="0.9"/>
<text x="188.60" y="304.65" text-anchor="end" font-size="10.2" letter-spacing="-0.15" fill="#262626">20</text>
<text x="323.55" y="534.35" text-anchor="middle" font-size="10.7" fill="#262626">Ratio of missing graph signals</text>
<text transform="translate(172.10,404.27) rotate(-90)" text-anchor="middle" font-size="10.7" fill="#262626">RMSE</text>
<polyline points="192.00,499.26 229.59,498.23 267.17,496.17 304.76,492.06 342.34,484.87 379.93,470.48 417.51,449.92 455.10,433.48" fill="none" stroke="#1f6234" stroke-width="1.7" stroke-linejoin="round"/>
<path d="M189.80,497.06 L194.20,501.46 M189.80,501.46 L194.20,497.06" stroke="#1f6234" stroke-width="1.4"/>
<path d="M227.39,496.03 L231.79,500.43 M227.39,500.43 L231.79,496.03" stroke="#1f6234" stroke-width="1.4"/>
<path d="M264.97,493.97 L269.37,498.37 M264.97,498.37 L269.37,493.97" stroke="#1f6234" stroke-width="1.4"/>
<path d="M302.56,489.86 L306.96,494.26 M302.56,494.26 L306.96,489.86" stroke="#1f6234" stroke-width="1.4"/>
<path d="M340.14,482.67 L344.54,487.07 M340.14,487.07 L344.54,482.67" stroke="#1f6234" stroke-width="1.4"/>
<path d="M377.73,468.28 L382.13,472.68 M377.73,472.68 L382.13,468.28" stroke="#1f6234" stroke-width="1.4"/>
<path d="M415.31,447.72 L419.71,452.12 M415.31,452.12 L419.71,447.72" stroke="#1f6234" stroke-width="1.4"/>
<path d="M452.90,431.28 L457.30,435.68 M452.90,435.68 L457.30,431.28" stroke="#1f6234" stroke-width="1.4"/>
<polyline points="192.00,492.06 229.59,485.89 267.17,479.73 304.76,470.48 342.34,461.23 379.93,448.90 417.51,434.51 455.10,403.67" fill="none" stroke="#35a41a" stroke-width="1.7" stroke-linejoin="round"/>
<path d="M192.00,488.46 L194.88,492.06 L192.00,495.66 L189.12,492.06 Z" fill="none" stroke="#35a41a" stroke-width="1.4"/>
<path d="M229.59,482.29 L232.47,485.89 L229.59,489.50 L226.71,485.89 Z" fill="none" stroke="#35a41a" stroke-width="1.4"/>
<path d="M267.17,476.13 L270.05,479.73 L267.17,483.33 L264.29,479.73 Z" fill="none" stroke="#35a41a" stroke-width="1.4"/>
<path d="M304.76,466.88 L307.64,470.48 L304.76,474.08 L301.88,470.48 Z" fill="none" stroke="#35a41a" stroke-width="1.4"/>
<path d="M342.34,457.63 L345.22,461.23 L342.34,464.83 L339.46,461.23 Z" fill="none" stroke="#35a41a" stroke-width="1.4"/>
<path d="M379.93,445.30 L382.81,448.90 L379.93,452.50 L377.05,448.90 Z" fill="none" stroke="#35a41a" stroke-width="1.4"/>
<path d="M417.51,430.91 L420.39,434.51 L417.51,438.11 L414.63,434.51 Z" fill="none" stroke="#35a41a" stroke-width="1.4"/>
<path d="M455.10,400.07 L457.98,403.67 L455.10,407.27 L452.22,403.67 Z" fill="none" stroke="#35a41a" stroke-width="1.4"/>
<polyline points="192.00,449.92 229.59,434.51 267.17,425.26 304.76,412.92 342.34,399.56 379.93,379.01 417.51,359.48 455.10,338.21" fill="none" stroke="#1aa1da" stroke-width="1.7" stroke-linejoin="round"/>
<path d="M195.20,449.92 L190.08,446.72 L190.08,453.12 Z" fill="none" stroke="#1aa1da" stroke-width="1.4" stroke-linejoin="miter"/>
<path d="M232.79,434.51 L227.67,431.31 L227.67,437.71 Z" fill="none" stroke="#1aa1da" stroke-width="1.4" stroke-linejoin="miter"/>
<path d="M270.37,425.26 L265.25,422.06 L265.25,428.46 Z" fill="none" stroke="#1aa1da" stroke-width="1.4" stroke-linejoin="miter"/>
<path d="M307.96,412.92 L302.84,409.72 L302.84,416.12 Z" fill="none" stroke="#1aa1da" stroke-width="1.4" stroke-linejoin="miter"/>
<path d="M345.54,399.56 L340.42,396.36 L340.42,402.76 Z" fill="none" stroke="#1aa1da" stroke-width="1.4" stroke-linejoin="miter"/>
<path d="M383.13,379.01 L378.01,375.81 L378.01,382.21 Z" fill="none" stroke="#1aa1da" stroke-width="1.4" stroke-linejoin="miter"/>
<path d="M420.71,359.48 L415.59,356.28 L415.59,362.68 Z" fill="none" stroke="#1aa1da" stroke-width="1.4" stroke-linejoin="miter"/>
<path d="M458.30,338.21 L453.18,335.01 L453.18,341.41 Z" fill="none" stroke="#1aa1da" stroke-width="1.4" stroke-linejoin="miter"/>
<polyline points="192.00,463.28 229.59,458.15 267.17,451.98 304.76,446.84 342.34,439.65 379.93,433.48 417.51,413.95 455.10,396.48" fill="none" stroke="#1c4b9c" stroke-width="1.7" stroke-linejoin="round"/>
<rect x="189.70" y="460.98" width="4.60" height="4.60" fill="none" stroke="#1c4b9c" stroke-width="1.6"/>
<rect x="227.29" y="455.85" width="4.60" height="4.60" fill="none" stroke="#1c4b9c" stroke-width="1.6"/>
<rect x="264.87" y="449.68" width="4.60" height="4.60" fill="none" stroke="#1c4b9c" stroke-width="1.6"/>
<rect x="302.46" y="444.54" width="4.60" height="4.60" fill="none" stroke="#1c4b9c" stroke-width="1.6"/>
<rect x="340.04" y="437.35" width="4.60" height="4.60" fill="none" stroke="#1c4b9c" stroke-width="1.6"/>
<rect x="377.63" y="431.18" width="4.60" height="4.60" fill="none" stroke="#1c4b9c" stroke-width="1.6"/>
<rect x="415.21" y="411.65" width="4.60" height="4.60" fill="none" stroke="#1c4b9c" stroke-width="1.6"/>
<rect x="452.80" y="394.18" width="4.60" height="4.60" fill="none" stroke="#1c4b9c" stroke-width="1.6"/>
<polyline points="192.00,466.37 229.59,463.28 267.17,455.06 304.76,449.92 342.34,446.84 379.93,436.56 417.51,423.20 455.10,406.76" fill="none" stroke="#7e2290" stroke-width="1.7" stroke-linejoin="round"/>
<circle cx="192.00" cy="466.37" r="2.70" fill="none" stroke="#7e2290" stroke-width="1.4"/>
<circle cx="229.59" cy="463.28" r="2.70" fill="none" stroke="#7e2290" stroke-width="1.4"/>
<circle cx="267.17" cy="455.06" r="2.70" fill="none" stroke="#7e2290" stroke-width="1.4"/>
<circle cx="304.76" cy="449.92" r="2.70" fill="none" stroke="#7e2290" stroke-width="1.4"/>
<circle cx="342.34" cy="446.84" r="2.70" fill="none" stroke="#7e2290" stroke-width="1.4"/>
<circle cx="379.93" cy="436.56" r="2.70" fill="none" stroke="#7e2290" stroke-width="1.4"/>
<circle cx="417.51" cy="423.20" r="2.70" fill="none" stroke="#7e2290" stroke-width="1.4"/>
<circle cx="455.10" cy="406.76" r="2.70" fill="none" stroke="#7e2290" stroke-width="1.4"/>
<polyline points="192.00,463.28 229.59,458.15 267.17,451.98 304.76,446.84 342.34,439.65 379.93,433.48 417.51,413.95 455.10,396.48" fill="none" stroke="#e3191c" stroke-width="1.7" stroke-linejoin="round"/>
<path d="M188.80,463.28 L193.92,460.08 L193.92,466.48 Z" fill="none" stroke="#e3191c" stroke-width="1.4" stroke-linejoin="miter"/>
<path d="M226.39,458.15 L231.51,454.95 L231.51,461.35 Z" fill="none" stroke="#e3191c" stroke-width="1.4" stroke-linejoin="miter"/>
<path d="M263.97,451.98 L269.09,448.78 L269.09,455.18 Z" fill="none" stroke="#e3191c" stroke-width="1.4" stroke-linejoin="miter"/>
<path d="M301.56,446.84 L306.68,443.64 L306.68,450.04 Z" fill="none" stroke="#e3191c" stroke-width="1.4" stroke-linejoin="miter"/>
<path d="M339.14,439.65 L344.26,436.45 L344.26,442.85 Z" fill="none" stroke="#e3191c" stroke-width="1.4" stroke-linejoin="miter"/>
<path d="M376.73,433.48 L381.85,430.28 L381.85,436.68 Z" fill="none" stroke="#e3191c" stroke-width="1.4" stroke-linejoin="miter"/>
<path d="M414.31,413.95 L419.43,410.75 L419.43,417.15 Z" fill="none" stroke="#e3191c" stroke-width="1.4" stroke-linejoin="miter"/>
<path d="M451.90,396.48 L457.02,393.28 L457.02,399.68 Z" fill="none" stroke="#e3191c" stroke-width="1.4" stroke-linejoin="miter"/>
<polyline points="192.00,500.28 229.59,390.31 267.17,498.23 304.76,470.48 342.34,491.03 379.93,463.28 417.51,416.01 455.10,317.34" fill="none" stroke="#a41538" stroke-width="1.7" stroke-linejoin="round"/>
<circle cx="192.00" cy="500.28" r="2.40" fill="#a41538" stroke="#a41538" stroke-width="0.5"/>
<circle cx="229.59" cy="390.31" r="2.40" fill="#a41538" stroke="#a41538" stroke-width="0.5"/>
<circle cx="267.17" cy="498.23" r="2.40" fill="#a41538" stroke="#a41538" stroke-width="0.5"/>
<circle cx="304.76" cy="470.48" r="2.40" fill="#a41538" stroke="#a41538" stroke-width="0.5"/>
<circle cx="342.34" cy="491.03" r="2.40" fill="#a41538" stroke="#a41538" stroke-width="0.5"/>
<circle cx="379.93" cy="463.28" r="2.40" fill="#a41538" stroke="#a41538" stroke-width="0.5"/>
<circle cx="417.51" cy="416.01" r="2.40" fill="#a41538" stroke="#a41538" stroke-width="0.5"/>
<circle cx="455.10" cy="317.34" r="2.40" fill="#a41538" stroke="#a41538" stroke-width="0.5"/>
<polyline points="192.00,503.37 229.59,502.34 267.17,501.31 304.76,498.23 342.34,487.95 379.93,478.70 417.51,465.34 455.10,437.59" fill="none" stroke="#111111" stroke-width="1.7" stroke-linejoin="round"/>
<path d="M192.00,499.97 L188.60,505.41 L195.40,505.41 Z" fill="none" stroke="#111111" stroke-width="1.6" stroke-linejoin="miter"/>
<path d="M229.59,498.94 L226.19,504.38 L232.99,504.38 Z" fill="none" stroke="#111111" stroke-width="1.6" stroke-linejoin="miter"/>
<path d="M267.17,497.91 L263.77,503.35 L270.57,503.35 Z" fill="none" stroke="#111111" stroke-width="1.6" stroke-linejoin="miter"/>
<path d="M304.76,494.83 L301.36,500.27 L308.16,500.27 Z" fill="none" stroke="#111111" stroke-width="1.6" stroke-linejoin="miter"/>
<path d="M342.34,484.55 L338.94,489.99 L345.74,489.99 Z" fill="none" stroke="#111111" stroke-width="1.6" stroke-linejoin="miter"/>
<path d="M379.93,475.30 L376.53,480.74 L383.33,480.74 Z" fill="none" stroke="#111111" stroke-width="1.6" stroke-linejoin="miter"/>
<path d="M417.51,461.94 L414.11,467.38 L420.91,467.38 Z" fill="none" stroke="#111111" stroke-width="1.6" stroke-linejoin="miter"/>
<path d="M455.10,434.19 L451.70,439.63 L458.50,439.63 Z" fill="none" stroke="#111111" stroke-width="1.6" stroke-linejoin="miter"/>
<rect x="198.10" y="307.30" width="82.60" height="96.60" fill="#fff" stroke="#6e6e6e" stroke-width="1.0"/>
<path d="M201.20,313.90 H224.70" stroke="#1c4b9c" stroke-width="1.7"/>
<rect x="210.65" y="311.60" width="4.60" height="4.60" fill="none" stroke="#1c4b9c" stroke-width="1.6"/>
<text x="226.70" y="317.47" font-size="8.8" fill="#111" stroke="#111" stroke-width="0.18">AR</text>
<path d="M201.20,325.70 H224.70" stroke="#7e2290" stroke-width="1.7"/>
<circle cx="212.95" cy="325.70" r="2.70" fill="none" stroke="#7e2290" stroke-width="1.4"/>
<text x="226.70" y="329.27" font-size="8.8" fill="#111" stroke="#111" stroke-width="0.18">VAR</text>
<path d="M201.20,337.50 H224.70" stroke="#e3191c" stroke-width="1.7"/>
<path d="M209.75,337.50 L214.87,334.30 L214.87,340.70 Z" fill="none" stroke="#e3191c" stroke-width="1.4" stroke-linejoin="miter"/>
<text x="226.70" y="341.07" font-size="8.8" fill="#111" stroke="#111" stroke-width="0.18">GP-VAR</text>
<path d="M201.20,349.30 H224.70" stroke="#1aa1da" stroke-width="1.7"/>
<path d="M216.15,349.30 L211.03,346.10 L211.03,352.50 Z" fill="none" stroke="#1aa1da" stroke-width="1.4" stroke-linejoin="miter"/>
<text x="226.70" y="352.87" font-size="8.8" fill="#111" stroke="#111" stroke-width="0.18">G-VAR</text>
<path d="M201.20,361.10 H224.70" stroke="#1f6234" stroke-width="1.7"/>
<path d="M210.75,358.90 L215.15,363.30 M210.75,363.30 L215.15,358.90" stroke="#1f6234" stroke-width="1.4"/>
<text x="226.70" y="364.67" font-size="8.8" fill="#111" stroke="#111" stroke-width="0.18">GraphTRSS</text>
<path d="M201.20,372.90 H224.70" stroke="#35a41a" stroke-width="1.7"/>
<path d="M212.95,369.30 L215.83,372.90 L212.95,376.50 L210.07,372.90 Z" fill="none" stroke="#35a41a" stroke-width="1.4"/>
<text x="226.70" y="376.47" font-size="8.8" fill="#111" stroke="#111" stroke-width="0.18">JWSS</text>
<path d="M201.20,384.70 H224.70" stroke="#a41538" stroke-width="1.7"/>
<circle cx="212.95" cy="384.70" r="2.40" fill="#a41538" stroke="#a41538" stroke-width="0.5"/>
<text x="226.70" y="388.27" font-size="8.8" fill="#111" stroke="#111" stroke-width="0.18">JSNC-ARMA</text>
<path d="M201.20,396.50 H224.70" stroke="#111111" stroke-width="1.7"/>
<path d="M212.95,393.10 L209.55,398.54 L216.35,398.54 Z" fill="none" stroke="#111111" stroke-width="1.6" stroke-linejoin="miter"/>
<text x="226.70" y="400.07" font-size="8.8" fill="#111" stroke="#111" stroke-width="0.18">JS-ARMA</text>
<text transform="translate(19.00,273.80) scale(1.025,1)" x="0" y="0" font-family='"Liberation Serif", serif' font-size="23" fill="#000">(a)</text>
<text transform="translate(53.80,273.80) scale(1.025,1)" x="0" y="0" font-family='"Liberation Serif", serif' font-size="23" fill="#000">Molène</text>
<text transform="translate(134.30,273.80) scale(1.025,1)" x="0" y="0" font-family='"Liberation Serif", serif' font-size="23" fill="#000">weather</text>
<text transform="translate(216.80,273.80) scale(1.025,1)" x="0" y="0" font-family='"Liberation Serif", serif' font-size="23" fill="#000">data</text>
<text transform="translate(266.20,273.80) scale(1.025,1)" x="0" y="0" font-family='"Liberation Serif", serif' font-size="23" fill="#000">set</text>
<text transform="translate(382.95,273.80) scale(1.025,1)" x="0" y="0" font-family='"Liberation Serif", serif' font-size="23" fill="#000">(b)</text>
<text transform="translate(418.80,273.80) scale(1.025,1)" x="0" y="0" font-family='"Liberation Serif", serif' font-size="23" fill="#000">COVID-19</text>
<text transform="translate(533.55,273.80) scale(1.025,1)" x="0" y="0" font-family='"Liberation Serif", serif' font-size="23" fill="#000">data</text>
<text transform="translate(580.85,273.80) scale(1.025,1)" x="0" y="0" font-family='"Liberation Serif", serif' font-size="23" fill="#000">set</text>
<text transform="translate(183.40,570.40) scale(1.025,1)" x="0" y="0" font-family='"Liberation Serif", serif' font-size="23" fill="#000">(c)</text>
<text transform="translate(217.30,570.40) scale(1.025,1)" x="0" y="0" font-family='"Liberation Serif", serif' font-size="23" fill="#000">NOAA</text>
<text transform="translate(293.80,570.40) scale(1.025,1)" x="0" y="0" font-family='"Liberation Serif", serif' font-size="23" fill="#000">weather</text>
<text transform="translate(376.70,570.40) scale(1.025,1)" x="0" y="0" font-family='"Liberation Serif", serif' font-size="23" fill="#000">data</text>
<text transform="translate(424.40,570.40) scale(1.025,1)" x="0" y="0" font-family='"Liberation Serif", serif' font-size="23" fill="#000">set</text>

</svg></body></html>
